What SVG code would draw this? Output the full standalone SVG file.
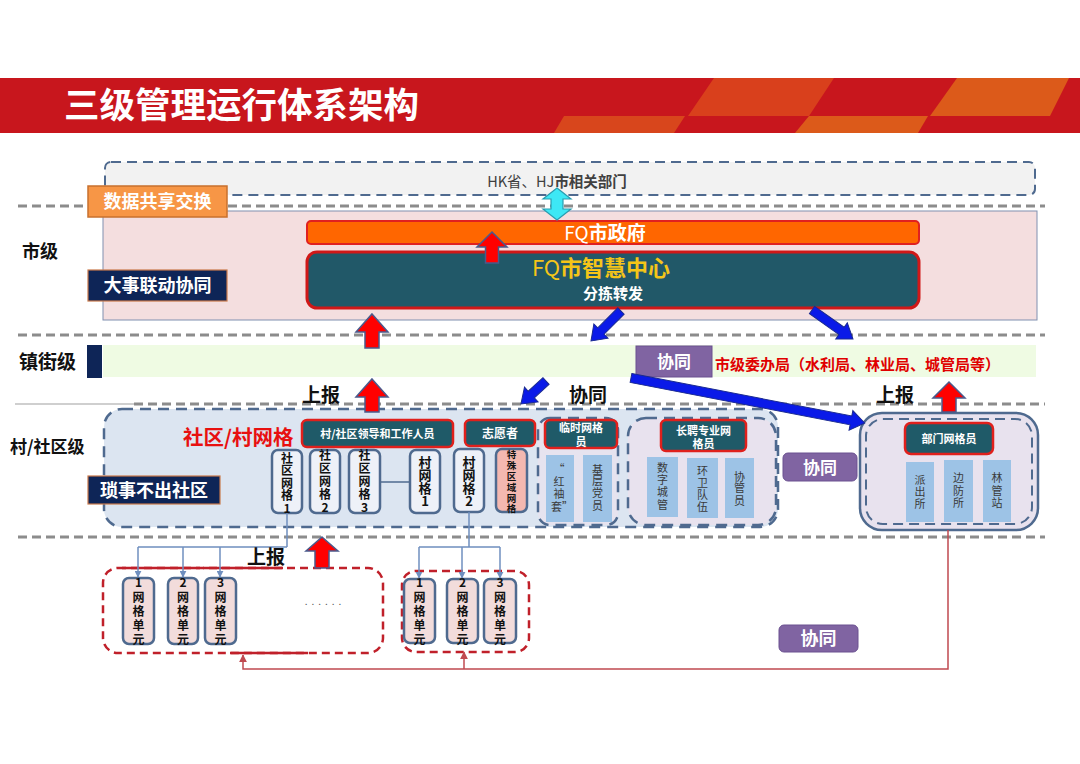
<svg xmlns="http://www.w3.org/2000/svg" width="1080" height="764" viewBox="0 0 1080 764">
<style>
text{font-family:"Noto Sans CJK SC","Noto Sans",sans-serif;}
.sep{stroke:#8C8C8C;stroke-width:3;stroke-dasharray:9 5;fill:none}
.lbl{font-weight:700;fill:#111}
.navy{fill:#0E2557;stroke:#C8784A;stroke-width:1.2}
.wt{fill:#fff;font-weight:700;text-anchor:middle}
.teal{fill:#1F5A68;stroke:#E0201C;stroke-width:2.5}
.vbox{fill:#EEF1F8;stroke:#4F6A8F;stroke-width:2.5}
.ubox{fill:#F2DCDB;stroke:#4F6A8F;stroke-width:2.5}
.lb{fill:#9DC3E6}
.vt{font-weight:700;fill:#111;text-anchor:middle}
.vs{fill:#3A3A3A;text-anchor:middle}
.dbl{stroke:#4F6A8F;stroke-width:2.5;stroke-dasharray:11 7}
.reddash{fill:none;stroke:#C0202A;stroke-width:2.5;stroke-dasharray:8 5}
.purple{fill:#8064A2;stroke:#6A5090;stroke-width:1}
.rarrow{fill:#FF0000;stroke:#4A5A8C;stroke-width:1.5}
.barrow{fill:#0A1AE8;stroke:#1A2A90;stroke-width:1}
.conn{fill:none;stroke:#6F8FBF;stroke-width:1.5}
.fb{fill:none;stroke:#C04A50;stroke-width:1.5}
</style>
<defs>
<marker id="ab" viewBox="0 0 10 10" refX="9" refY="5" markerWidth="7" markerHeight="7" markerUnits="userSpaceOnUse" orient="auto"><path d="M0,0 L10,5 L0,10 Z" fill="#6F8FBF"/></marker>
<marker id="ar" viewBox="0 0 10 10" refX="9" refY="5" markerWidth="8" markerHeight="8" markerUnits="userSpaceOnUse" orient="auto"><path d="M0,0 L10,5 L0,10 Z" fill="#C04A50"/></marker>
</defs>

<g id="header">
<rect x="0" y="78" width="1080" height="55" fill="#C8161D"/>
<polygon points="714,78 834,78 809,116 688,116" fill="#D9401C"/>
<polygon points="957,78 1069,78 1050,116 930,116" fill="#DC5A1A"/>
<polygon points="564,116 685,116 674,133 554,133" fill="#D8461C"/>
<polygon points="809,116 928,116 918,133 795,133" fill="#DC5A1A"/>
<text x="64" y="118" font-size="35.5" font-weight="700" fill="#fff">三级管理运行体系架构</text>
</g>

<g id="separators">
<line class="sep" x1="18" y1="206" x2="1045" y2="206"/>
<line class="sep" x1="18" y1="335" x2="1045" y2="335"/>
<line x1="15" y1="404" x2="134" y2="404" stroke="#A0A0A0" stroke-width="1.2"/>
<line class="sep" x1="134" y1="404" x2="1045" y2="404"/>
<line class="sep" x1="18" y1="537" x2="1045" y2="537"/>
</g>

<g id="levels">
<text class="lbl" x="22" y="258" font-size="18">市级</text>
<text class="lbl" x="19" y="369" font-size="19">镇街级</text>
<text class="lbl" x="10" y="453" font-size="17">村/社区级</text>
</g>

<g id="hk">
<rect x="105" y="162" width="930" height="33" rx="6" fill="#F2F2F2" stroke="#4F6A8F" stroke-width="2" stroke-dasharray="10 6"/>
<text x="557" y="187" font-size="14.5" fill="#404040" text-anchor="middle">HK省、HJ<tspan font-weight="700">市相关部门</tspan></text>
</g>

<g id="city">
<rect x="103" y="211" width="934" height="109" fill="#F4DEDF" stroke="#8090B0" stroke-width="1"/>
</g>

<g id="share">
<rect x="88" y="186" width="139" height="31" fill="#F79646" stroke="#C8702E" stroke-width="1.5"/>
<text class="wt" x="157.5" y="208" font-size="18">数据共享交换</text>
</g>

<g id="dashi">
<rect class="navy" x="88" y="270" width="139" height="31"/>
<text class="wt" x="157.5" y="292" font-size="18">大事联动协同</text>
</g>

<g id="gov">
<rect x="307" y="221" width="612" height="23" rx="4" fill="#FF6600" stroke="#E02020" stroke-width="2"/>
<text class="wt" x="605" y="240" font-size="19"><tspan font-weight="400">FQ</tspan>市政府</text>
</g>

<g id="center">
<rect x="307" y="252" width="612" height="56" rx="10" fill="#215868" stroke="#D01818" stroke-width="3"/>
<text x="601" y="276" font-size="22" font-weight="700" fill="#F5C518" text-anchor="middle"><tspan font-weight="400">FQ</tspan>市智慧中心</text>
<text class="wt" x="613" y="299" font-size="15">分拣转发</text>
</g>

<g id="town">
<rect x="103" y="345" width="933" height="32" fill="#EFFBE3"/>
<rect x="87" y="345" width="15" height="33" fill="#0E2557"/>
</g>

<g id="xietong1">
<rect class="purple" x="636" y="346" width="76" height="31"/>
<text class="wt" x="674" y="368" font-size="17">协同</text>
<text x="715" y="370" font-size="15" font-weight="700" fill="#E00000">市级委办局（水利局、林业局、城管局等）</text>
</g>

<g id="community">
<rect x="104" y="409" width="674" height="118" rx="18" fill="#DCE5F1" class="dbl"/>
<text x="183" y="445" font-size="20.5" font-weight="700" fill="#E81010">社区/村网格</text>
</g>

<g id="suoshi">
<rect class="navy" x="88" y="476" width="132" height="28"/>
<text class="wt" x="154" y="497" font-size="18">琐事不出社区</text>
</g>

<g id="leaders">
<rect class="teal" x="302" y="420" width="151" height="27" rx="5"/>
<text class="wt" x="377.5" y="438" font-size="11">村/社区领导和工作人员</text>
</g>

<g id="volunteer">
<rect class="teal" x="465" y="420" width="70" height="26" rx="5"/>
<text class="wt" x="500" y="438" font-size="12">志愿者</text>
</g>

<g id="sq1">
<rect class="vbox" x="272" y="450" width="30" height="63" rx="6"/>
<text class="vt" x="287" font-size="12"><tspan x="287" y="462.5">社</tspan><tspan x="287" y="475">区</tspan><tspan x="287" y="487.5">网</tspan><tspan x="287" y="500">格</tspan><tspan x="287" y="512.5">1</tspan></text>
</g>
<g id="sq2">
<rect class="vbox" x="310" y="450" width="30" height="63" rx="6"/>
<text class="vt" x="325" font-size="12"><tspan x="325" y="460">社</tspan><tspan x="325" y="473">区</tspan><tspan x="325" y="486">网</tspan><tspan x="325" y="499">格</tspan><tspan x="325" y="511.5">2</tspan></text>
</g>
<g id="sq3">
<rect class="vbox" x="349" y="450" width="31" height="63" rx="6"/>
<text class="vt" x="364.5" font-size="12"><tspan x="364.5" y="460">社</tspan><tspan x="364.5" y="473">区</tspan><tspan x="364.5" y="486">网</tspan><tspan x="364.5" y="499">格</tspan><tspan x="364.5" y="511.5">3</tspan></text>
</g>
<g id="cun1">
<rect class="vbox" x="410" y="450" width="30" height="63" rx="6"/>
<text class="vt" x="425" font-size="13"><tspan x="425" y="467">村</tspan><tspan x="425" y="480">网</tspan><tspan x="425" y="493">格</tspan><tspan x="425" y="506">1</tspan></text>
</g>
<g id="cun2">
<rect class="vbox" x="454" y="449" width="30" height="63" rx="6"/>
<text class="vt" x="469" font-size="13"><tspan x="469" y="467">村</tspan><tspan x="469" y="480">网</tspan><tspan x="469" y="493">格</tspan><tspan x="469" y="506">2</tspan></text>
</g>
<g id="special">
<rect x="496" y="449" width="31" height="63" rx="6" fill="#F4B8B0" stroke="#4F6A8F" stroke-width="2.5"/>
<text class="vt" x="511.5" font-size="9.5" fill="#333"><tspan x="511.5" y="457.5">特</tspan><tspan x="511.5" y="468.5">殊</tspan><tspan x="511.5" y="479.5">区</tspan><tspan x="511.5" y="490.5">域</tspan><tspan x="511.5" y="501.5">网</tspan><tspan x="511.5" y="511.5">格</tspan></text>
</g>

<g id="temp">
<rect x="538" y="418" width="80" height="107" rx="12" fill="#E6E3EF" class="dbl" stroke-width="2"/>
<rect class="teal" x="545" y="420" width="72" height="28" rx="5"/>
<text class="wt" x="581" y="432" font-size="11">临时网格</text>
<text class="wt" x="581" y="446" font-size="11">员</text>
<rect class="lb" x="546" y="455" width="28" height="67"/>
<text class="vs" x="559" font-size="11"><tspan x="559" y="473">“</tspan><tspan x="559" y="486">红</tspan><tspan x="559" y="498">袖</tspan><tspan x="562" y="511">套”</tspan></text>
<rect class="lb" x="583" y="455" width="29" height="67"/>
<text class="vs" x="597.5" font-size="11"><tspan x="597.5" y="474">基</tspan><tspan x="597.5" y="485">层</tspan><tspan x="597.5" y="497">党</tspan><tspan x="597.5" y="510">员</tspan></text>
</g>

<g id="longterm">
<rect x="628" y="418" width="148" height="107" rx="18" fill="#E8E2EE" class="dbl" stroke-width="2"/>
<rect class="teal" x="661" y="420" width="85" height="31" rx="5"/>
<text class="wt" x="703.5" y="435" font-size="11">长聘专业网</text>
<text class="wt" x="703.5" y="448" font-size="11">格员</text>
<rect class="lb" x="647" y="457" width="31" height="60"/>
<text class="vs" x="662.5" font-size="11"><tspan x="662.5" y="472">数</tspan><tspan x="662.5" y="484">字</tspan><tspan x="662.5" y="496">城</tspan><tspan x="662.5" y="509">管</tspan></text>
<rect class="lb" x="687" y="458" width="31" height="60"/>
<text class="vs" x="702.5" font-size="11"><tspan x="702.5" y="475">环</tspan><tspan x="702.5" y="487">卫</tspan><tspan x="702.5" y="499">队</tspan><tspan x="702.5" y="511">伍</tspan></text>
<rect class="lb" x="725" y="458" width="29" height="60"/>
<text class="vs" x="739.5" font-size="11"><tspan x="739.5" y="481">协</tspan><tspan x="739.5" y="492">管</tspan><tspan x="739.5" y="505">员</tspan></text>
</g>

<g id="xietong2">
<rect class="purple" x="783" y="453" width="74" height="28" rx="5"/>
<text class="wt" x="820" y="474" font-size="17">协同</text>
</g>

<g id="dept">
<rect x="860" y="413" width="178" height="117" rx="22" fill="#E8E2EE" stroke="#4F6A8F" stroke-width="2.5"/>
<rect x="866" y="419" width="166" height="105" rx="17" fill="none" stroke="#4F6A8F" stroke-width="2" stroke-dasharray="10 6"/>
<rect class="teal" x="905" y="423" width="88" height="31" rx="6"/>
<text class="wt" x="949" y="443" font-size="11">部门网格员</text>
<rect class="lb" x="906" y="462" width="28" height="60"/>
<text class="vs" x="920" font-size="11"><tspan x="920" y="484">派</tspan><tspan x="920" y="496">出</tspan><tspan x="920" y="508">所</tspan></text>
<rect class="lb" x="944" y="460" width="29" height="62"/>
<text class="vs" x="958.5" font-size="11"><tspan x="958.5" y="482">边</tspan><tspan x="958.5" y="495">防</tspan><tspan x="958.5" y="507">所</tspan></text>
<rect class="lb" x="983" y="460" width="28" height="62"/>
<text class="vs" x="997" font-size="11"><tspan x="997" y="482">林</tspan><tspan x="997" y="495">管</tspan><tspan x="997" y="507">站</tspan></text>
</g>

<g id="unitsLeft">
<rect class="reddash" x="103" y="568" width="280" height="85" rx="15"/>
<line x1="122" y1="568" x2="200" y2="568" stroke="#C0202A" stroke-width="2.5"/>
<line x1="203" y1="568" x2="283" y2="568" stroke="#C0202A" stroke-width="2.5"/>
<line x1="230" y1="653" x2="308" y2="653" stroke="#C0202A" stroke-width="2.5"/>
<rect class="ubox" x="123" y="578" width="31" height="66" rx="6"/>
<text class="vt" x="138.5" font-size="12"><tspan x="138.5" y="587">1</tspan><tspan x="138.5" y="602">网</tspan><tspan x="138.5" y="616">格</tspan><tspan x="138.5" y="630">单</tspan><tspan x="138.5" y="644">元</tspan></text>
<rect class="ubox" x="168" y="578" width="30" height="66" rx="6"/>
<text class="vt" x="183" font-size="12"><tspan x="183" y="587">2</tspan><tspan x="183" y="602">网</tspan><tspan x="183" y="616">格</tspan><tspan x="183" y="630">单</tspan><tspan x="183" y="644">元</tspan></text>
<rect class="ubox" x="205" y="578" width="31" height="66" rx="6"/>
<text class="vt" x="220.5" font-size="12"><tspan x="220.5" y="587">3</tspan><tspan x="220.5" y="602">网</tspan><tspan x="220.5" y="616">格</tspan><tspan x="220.5" y="630">单</tspan><tspan x="220.5" y="644">元</tspan></text>
<text x="325" y="605" font-size="10" fill="#555" text-anchor="middle" letter-spacing="4">......</text>
</g>

<g id="unitsRight">
<rect class="reddash" x="402" y="571" width="127" height="81" rx="14"/>
<rect class="ubox" x="404" y="579" width="31" height="64" rx="6"/>
<text class="vt" x="419.5" font-size="12"><tspan x="419.5" y="587">1</tspan><tspan x="419.5" y="602">网</tspan><tspan x="419.5" y="616">格</tspan><tspan x="419.5" y="630">单</tspan><tspan x="419.5" y="644">元</tspan></text>
<rect class="ubox" x="447" y="579" width="31" height="64" rx="6"/>
<text class="vt" x="462.5" font-size="12"><tspan x="462.5" y="587">2</tspan><tspan x="462.5" y="602">网</tspan><tspan x="462.5" y="616">格</tspan><tspan x="462.5" y="630">单</tspan><tspan x="462.5" y="644">元</tspan></text>
<rect class="ubox" x="484" y="579" width="32" height="64" rx="6"/>
<text class="vt" x="500" font-size="12"><tspan x="500" y="587">3</tspan><tspan x="500" y="602">网</tspan><tspan x="500" y="616">格</tspan><tspan x="500" y="630">单</tspan><tspan x="500" y="644">元</tspan></text>
</g>

<g id="xietong3">
<rect class="purple" x="779" y="625" width="79" height="27" rx="5"/>
<text class="wt" x="818.5" y="645" font-size="18">协同</text>
</g>

<g id="connectors">
<line x1="380" y1="482" x2="410" y2="482" stroke="#4F6A8F" stroke-width="1.5"/>
<path class="conn" d="M287,513 V547 M138,547 H287"/>
<path class="conn" d="M138,547 V577" marker-end="url(#ab)"/>
<path class="conn" d="M183,547 V577" marker-end="url(#ab)"/>
<path class="conn" d="M220,547 V577" marker-end="url(#ab)"/>
<path class="conn" d="M469,512 V547 M419,547 H500"/>
<path class="conn" d="M419,547 V578" marker-end="url(#ab)"/>
<path class="conn" d="M462,547 V578" marker-end="url(#ab)"/>
<path class="conn" d="M500,547 V578" marker-end="url(#ab)"/>
<path class="fb" d="M948,530 V669 H243 V655" marker-end="url(#ar)"/>
<path class="fb" d="M464,669 V652" marker-end="url(#ar)"/>
<path class="rarrow" d="M492,232 L507,247 L498.5,247 L498.5,263 L485.5,263 L485.5,247 L477,247 Z"/>
<path class="rarrow" d="M372,314 L388,332 L379,332 L379,348 L365,348 L365,332 L356,332 Z"/>
<path class="rarrow" d="M372,379 L388,397 L379,397 L379,412 L365,412 L365,397 L356,397 Z"/>
<path class="rarrow" d="M949,382 L965,398 L956,398 L956,412 L942,412 L942,398 L933,398 Z"/>
<path class="rarrow" d="M322,537 L338,551 L329,551 L329,568 L315,568 L315,551 L306,551 Z"/>
<path d="M557,188 L571,199 L563,199 L563,209 L571,209 L557,220 L543,209 L551,209 L551,199 L543,199 Z" fill="#3DE8F5" stroke="#2A9DB0" stroke-width="1.2"/>
<path class="barrow" transform="translate(621,311) rotate(135)" d="M0,-4.5 L28.4,-4.5 L28.4,-10 L42.4,0 L28.4,10 L28.4,4.5 L0,4.5 Z"/>
<path class="barrow" transform="translate(546,381) rotate(137.4)" d="M0,-4.5 L20,-4.5 L20,-10 L34,0 L20,10 L20,4.5 L0,4.5 Z"/>
<path class="barrow" transform="translate(812,310) rotate(35.3)" d="M0,-4.5 L36.2,-4.5 L36.2,-10 L50.2,0 L36.2,10 L36.2,4.5 L0,4.5 Z"/>
<path class="barrow" transform="translate(631,378) rotate(10.9)" d="M0,-4.5 L224,-4.5 L224,-10 L238,0 L224,10 L224,4.5 L0,4.5 Z"/>
</g>

<g id="labels">
<text class="lbl" x="302" y="402" font-size="19">上报</text>
<text class="lbl" x="569" y="402" font-size="19">协同</text>
<text class="lbl" x="876" y="402" font-size="19">上报</text>
<text class="lbl" x="247" y="564" font-size="19">上报</text>
</g>
</svg>
